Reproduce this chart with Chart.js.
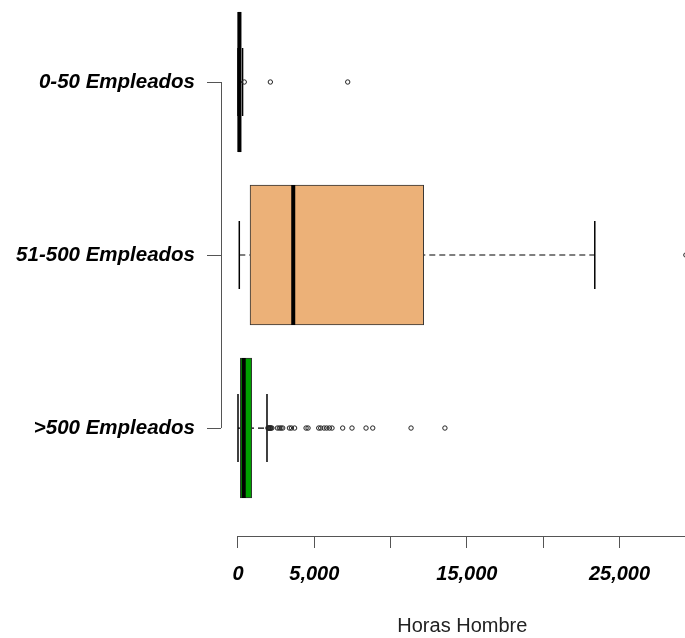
<!DOCTYPE html>
<html>
<head>
<meta charset="utf-8">
<script src="https://cdn.jsdelivr.net/npm/chart.js@4"></script>
<style>
  html, body { margin: 0; padding: 0; background: #fff; }
  #wrap { width: 685px; height: 638px; position: relative; }
</style>
</head>
<body>
<div id="wrap"><canvas id="chart"></canvas></div>
<script>
// groups, top to bottom
var groups = ['0-50 Empleados', '51-500 Empleados', '>500 Empleados'];
var boxColors = ['#ffffff', '#ECB178', '#00A000'];

// five number summaries
var whiskerLow  = [0, 85, 0];
var q1          = [10, 790, 150];
var median      = [90, 3620, 375];
var q3          = [200, 12170, 900];
var whiskerHigh = [300, 23380, 1900];

// outliers per group
var outliers0 = [410, 2120, 7190];
var outliers1 = [29350];
var outliers2 = [1960, 2000, 2040, 2080, 2120, 2160, 2220, 2580, 2710, 2820, 2930,
                 3370, 3500, 3710, 4460, 4590, 5290, 5420, 5640, 5810, 5990, 6160,
                 6860, 7470, 8390, 8830, 11340, 13560];

var xTicks = [0, 5000, 10000, 15000, 20000, 25000];
var xLabelled = [0, 5000, 15000, 25000];
var xTitle = 'Horas Hombre';

var fontFamily = "'Liberation Sans', Arial, sans-serif";

var datasets = [];

// whiskers (dashed), drawn under everything
groups.forEach(function(g, i) {
  datasets.push({
    type: 'scatter',
    showLine: true,
    data: [{x: whiskerLow[i], y: i + 1}, {x: whiskerHigh[i], y: i + 1}],
    borderColor: '#000',
    borderWidth: 1.2,
    borderDash: [6, 4],
    pointRadius: 0,
    order: 5
  });
});

// whisker caps
datasets.push({
  type: 'scatter',
  data: groups.map(function(g, i) { return {x: whiskerLow[i], y: i + 1}; })
    .concat(groups.map(function(g, i) { return {x: whiskerHigh[i], y: i + 1}; })),
  pointStyle: 'line',
  rotation: 90,
  radius: 34,
  borderColor: '#000',
  borderWidth: 1.5,
  order: 4
});

// boxes
datasets.push({
  type: 'bar',
  data: groups.map(function(g, i) { return {x: [q1[i], q3[i]], y: i + 1}; }),
  backgroundColor: boxColors,
  borderColor: '#333',
  borderWidth: 1,
  borderSkipped: false,
  barThickness: 140,
  grouped: false,
  order: 3
});

// medians
datasets.push({
  type: 'scatter',
  data: groups.map(function(g, i) { return {x: median[i], y: i + 1}; }),
  pointStyle: 'line',
  rotation: 90,
  radius: 70,
  borderColor: '#000',
  borderWidth: 4,
  order: 2
});

// outliers
[outliers0, outliers1, outliers2].forEach(function(list, i) {
  datasets.push({
    type: 'scatter',
    data: list.map(function(v) { return {x: v, y: i + 1}; }),
    pointStyle: 'circle',
    radius: 2.2,
    borderColor: '#222',
    backgroundColor: 'rgba(255,255,255,0)',
    borderWidth: 1,
    order: 1
  });
});

// axis lines spanning the first to last tick, and the x title
var axisPlugin = {
  id: 'axisPlugin',
  afterDraw: function(chart) {
    var ctx = chart.ctx;
    var xs = chart.scales.x, ys = chart.scales.y;
    var area = chart.chartArea;
    ctx.save();
    ctx.strokeStyle = '#555';
    ctx.lineWidth = 1;
    ctx.beginPath();
    var lx = Math.round(area.left) + 0.5;
    ctx.moveTo(lx, ys.getPixelForValue(1));
    ctx.lineTo(lx, ys.getPixelForValue(groups.length));
    var by = Math.round(area.bottom) + 0.5;
    ctx.moveTo(xs.getPixelForValue(xTicks[0]), by);
    ctx.lineTo(xs.getPixelForValue(30000), by);
    ctx.stroke();

    ctx.fillStyle = '#222';
    ctx.font = '20px ' + fontFamily;
    ctx.textAlign = 'center';
    ctx.textBaseline = 'middle';
    ctx.fillText(xTitle, xs.getPixelForValue(14700), 626);
    ctx.restore();
  }
};

var config = {
  type: 'bar',
  data: { datasets: datasets },
  options: {
    indexAxis: 'y',
    responsive: true,
    maintainAspectRatio: false,
    animation: false,
    events: [],
    layout: { padding: 0, autoPadding: false },
    plugins: {
      legend: { display: false },
      tooltip: { enabled: false }
    },
    scales: {
      x: {
        type: 'linear',
        min: -1114,
        max: 29292,
        offset: false,
        afterBuildTicks: function(scale) {
          scale.ticks = xTicks.map(function(v) { return {value: v}; });
        },
        afterFit: function(scale) {
          scale.height = 102;
          scale.paddingLeft = 0;
          scale.paddingRight = 0;
        },
        border: { display: false },
        grid: { offset: false, drawOnChartArea: false, drawTicks: true, tickLength: 12, color: '#555' },
        ticks: {
          autoSkip: false,
          maxRotation: 0,
          padding: 14,
          color: '#000',
          font: { family: fontFamily, size: 20, weight: 'bold', style: 'italic' },
          callback: function(v) {
            return xLabelled.indexOf(v) >= 0 ? v.toLocaleString('en-US') : '';
          }
        }
      },
      y: {
        type: 'linear',
        reverse: true,
        min: 0.526,
        max: 3.624,
        offset: false,
        afterBuildTicks: function(scale) {
          scale.ticks = groups.map(function(g, i) { return {value: i + 1}; });
        },
        afterFit: function(scale) {
          scale.width = 221;
          scale.paddingTop = 0;
          scale.paddingBottom = 0;
        },
        border: { display: false },
        grid: { offset: false, drawOnChartArea: false, drawTicks: true, tickLength: 14, color: '#555' },
        ticks: {
          autoSkip: false,
          padding: 12,
          color: '#000',
          font: { family: fontFamily, size: 20.5, weight: 'bold', style: 'italic' },
          callback: function(v) { return groups[v - 1]; }
        }
      }
    }
  },
  plugins: [axisPlugin]
};

window.onload = function() {
  var ctx = document.getElementById('chart').getContext('2d');
  window.myChart = new Chart(ctx, config);
};
</script>
</body>
</html>
